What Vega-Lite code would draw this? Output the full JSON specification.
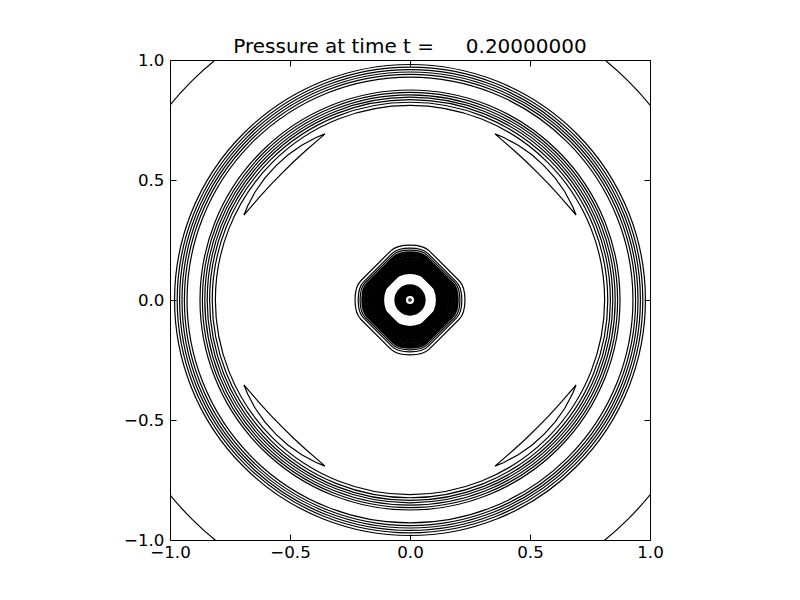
{
  "$schema": "https://vega.github.io/schema/vega-lite/v6.json",
  "width": 480,
  "height": 480,
  "autosize": {"type": "none"},
  "padding": {"left": 170, "top": 60, "right": 150, "bottom": 60},
  "background": "white",
  "title": {
    "text": "Pressure at time t =\u00a0\u00a0\u00a0\u00a0\u00a00.20000000",
    "font": "DejaVu Sans",
    "fontSize": 20,
    "fontWeight": "normal",
    "color": "black",
    "anchor": "middle",
    "frame": "group",
    "baseline": "alphabetic",
    "offset": -21
  },
  "config": {
    "view": {"stroke": "black", "strokeWidth": 1},
    "axis": {
      "domain": false,
      "grid": false,
      "tickColor": "black",
      "tickWidth": 1,
      "tickSize": -6,
      "labelColor": "black",
      "labelFont": "DejaVu Sans",
      "labelFontSize": 16.7,
      "labelPadding": 12,
      "labelFlush": false,
      "labelOverlap": false
    }
  },
  "datasets": {
    "circles": [
      {"group": "ring", "cx": 0, "cy": 0, "r": 0.981},
      {"group": "ring", "cx": 0, "cy": 0, "r": 0.970},
      {"group": "ring", "cx": 0, "cy": 0, "r": 0.960},
      {"group": "ring", "cx": 0, "cy": 0, "r": 0.950},
      {"group": "ring", "cx": 0, "cy": 0, "r": 0.940},
      {"group": "ring", "cx": 0, "cy": 0, "r": 0.929},
      {"group": "ring", "cx": 0, "cy": 0, "r": 0.875},
      {"group": "ring", "cx": 0, "cy": 0, "r": 0.865},
      {"group": "ring", "cx": 0, "cy": 0, "r": 0.855},
      {"group": "ring", "cx": 0, "cy": 0, "r": 0.845},
      {"group": "ring", "cx": 0, "cy": 0, "r": 0.835},
      {"group": "ring", "cx": 0, "cy": 0, "r": 0.824},
      {"group": "ring", "cx": 0, "cy": 0, "r": 0.811},
      {"group": "ring", "cx": 0, "cy": 0, "r": 1.288},
      {"group": "band", "cx": 0, "cy": 0, "r": 0.146},
      {"group": "band", "cx": 0, "cy": 0, "r": 0.141},
      {"group": "band", "cx": 0, "cy": 0, "r": 0.136},
      {"group": "band", "cx": 0, "cy": 0, "r": 0.131},
      {"group": "band", "cx": 0, "cy": 0, "r": 0.126},
      {"group": "band", "cx": 0, "cy": 0, "r": 0.121},
      {"group": "band", "cx": 0, "cy": 0, "r": 0.116},
      {"group": "band", "cx": 0, "cy": 0, "r": 0.112},
      {"group": "core", "cx": 0, "cy": 0, "r": 0.061},
      {"group": "core", "cx": 0, "cy": 0, "r": 0.057},
      {"group": "core", "cx": 0, "cy": 0, "r": 0.053},
      {"group": "core", "cx": 0, "cy": 0, "r": 0.049},
      {"group": "core", "cx": 0, "cy": 0, "r": 0.045},
      {"group": "core", "cx": 0, "cy": 0, "r": 0.041},
      {"group": "core", "cx": 0, "cy": 0, "r": 0.037},
      {"group": "core", "cx": 0, "cy": 0, "r": 0.033},
      {"group": "core", "cx": 0, "cy": 0, "r": 0.029},
      {"group": "core", "cx": 0, "cy": 0, "r": 0.025},
      {"group": "core", "cx": 0, "cy": 0, "r": 0.021},
      {"group": "ring", "cx": 0, "cy": 0, "r": 0.005}
    ],
    "diamonds": [
      {"group": "outer", "cx": 0, "cy": 0, "a": 0.229},
      {"group": "outer", "cx": 0, "cy": 0, "a": 0.216},
      {"group": "outer", "cx": 0, "cy": 0, "a": 0.208},
      {"group": "band", "cx": 0, "cy": 0, "a": 0.199},
      {"group": "band", "cx": 0, "cy": 0, "a": 0.193},
      {"group": "band", "cx": 0, "cy": 0, "a": 0.187},
      {"group": "band", "cx": 0, "cy": 0, "a": 0.181},
      {"group": "band", "cx": 0, "cy": 0, "a": 0.175},
      {"group": "band", "cx": 0, "cy": 0, "a": 0.169},
      {"group": "band", "cx": 0, "cy": 0, "a": 0.163},
      {"group": "band", "cx": 0, "cy": 0, "a": 0.157},
      {"group": "band", "cx": 0, "cy": 0, "a": 0.151},
      {"group": "band", "cx": 0, "cy": 0, "a": 0.145},
      {"group": "band", "cx": 0, "cy": 0, "a": 0.139},
      {"group": "band", "cx": 0, "cy": 0, "a": 0.133},
      {"group": "band", "cx": 0, "cy": 0, "a": 0.127},
      {"group": "band", "cx": 0, "cy": 0, "a": 0.121}
    ],
    "crescents": [
      {"id": "TL", "i": 0, "x": -0.354, "y": 0.692},
      {"id": "TL", "i": 1, "x": -0.391, "y": 0.677},
      {"id": "TL", "i": 2, "x": -0.451, "y": 0.645},
      {"id": "TL", "i": 3, "x": -0.508, "y": 0.605},
      {"id": "TL", "i": 4, "x": -0.559, "y": 0.559},
      {"id": "TL", "i": 5, "x": -0.605, "y": 0.508},
      {"id": "TL", "i": 6, "x": -0.645, "y": 0.451},
      {"id": "TL", "i": 7, "x": -0.677, "y": 0.391},
      {"id": "TL", "i": 8, "x": -0.692, "y": 0.354},
      {"id": "TL", "i": 9, "x": -0.666, "y": 0.384},
      {"id": "TL", "i": 10, "x": -0.622, "y": 0.435},
      {"id": "TL", "i": 11, "x": -0.577, "y": 0.484},
      {"id": "TL", "i": 12, "x": -0.531, "y": 0.531},
      {"id": "TL", "i": 13, "x": -0.484, "y": 0.577},
      {"id": "TL", "i": 14, "x": -0.435, "y": 0.622},
      {"id": "TL", "i": 15, "x": -0.384, "y": 0.666},
      {"id": "TL", "i": 16, "x": -0.354, "y": 0.692},
      {"id": "TR", "i": 0, "x": 0.354, "y": 0.692},
      {"id": "TR", "i": 1, "x": 0.391, "y": 0.677},
      {"id": "TR", "i": 2, "x": 0.451, "y": 0.645},
      {"id": "TR", "i": 3, "x": 0.508, "y": 0.605},
      {"id": "TR", "i": 4, "x": 0.559, "y": 0.559},
      {"id": "TR", "i": 5, "x": 0.605, "y": 0.508},
      {"id": "TR", "i": 6, "x": 0.645, "y": 0.451},
      {"id": "TR", "i": 7, "x": 0.677, "y": 0.391},
      {"id": "TR", "i": 8, "x": 0.692, "y": 0.354},
      {"id": "TR", "i": 9, "x": 0.666, "y": 0.384},
      {"id": "TR", "i": 10, "x": 0.622, "y": 0.435},
      {"id": "TR", "i": 11, "x": 0.577, "y": 0.484},
      {"id": "TR", "i": 12, "x": 0.531, "y": 0.531},
      {"id": "TR", "i": 13, "x": 0.484, "y": 0.577},
      {"id": "TR", "i": 14, "x": 0.435, "y": 0.622},
      {"id": "TR", "i": 15, "x": 0.384, "y": 0.666},
      {"id": "TR", "i": 16, "x": 0.354, "y": 0.692},
      {"id": "BL", "i": 0, "x": -0.354, "y": -0.692},
      {"id": "BL", "i": 1, "x": -0.391, "y": -0.677},
      {"id": "BL", "i": 2, "x": -0.451, "y": -0.645},
      {"id": "BL", "i": 3, "x": -0.508, "y": -0.605},
      {"id": "BL", "i": 4, "x": -0.559, "y": -0.559},
      {"id": "BL", "i": 5, "x": -0.605, "y": -0.508},
      {"id": "BL", "i": 6, "x": -0.645, "y": -0.451},
      {"id": "BL", "i": 7, "x": -0.677, "y": -0.391},
      {"id": "BL", "i": 8, "x": -0.692, "y": -0.354},
      {"id": "BL", "i": 9, "x": -0.666, "y": -0.384},
      {"id": "BL", "i": 10, "x": -0.622, "y": -0.435},
      {"id": "BL", "i": 11, "x": -0.577, "y": -0.484},
      {"id": "BL", "i": 12, "x": -0.531, "y": -0.531},
      {"id": "BL", "i": 13, "x": -0.484, "y": -0.577},
      {"id": "BL", "i": 14, "x": -0.435, "y": -0.622},
      {"id": "BL", "i": 15, "x": -0.384, "y": -0.666},
      {"id": "BL", "i": 16, "x": -0.354, "y": -0.692},
      {"id": "BR", "i": 0, "x": 0.354, "y": -0.692},
      {"id": "BR", "i": 1, "x": 0.391, "y": -0.677},
      {"id": "BR", "i": 2, "x": 0.451, "y": -0.645},
      {"id": "BR", "i": 3, "x": 0.508, "y": -0.605},
      {"id": "BR", "i": 4, "x": 0.559, "y": -0.559},
      {"id": "BR", "i": 5, "x": 0.605, "y": -0.508},
      {"id": "BR", "i": 6, "x": 0.645, "y": -0.451},
      {"id": "BR", "i": 7, "x": 0.677, "y": -0.391},
      {"id": "BR", "i": 8, "x": 0.692, "y": -0.354},
      {"id": "BR", "i": 9, "x": 0.666, "y": -0.384},
      {"id": "BR", "i": 10, "x": 0.622, "y": -0.435},
      {"id": "BR", "i": 11, "x": 0.577, "y": -0.484},
      {"id": "BR", "i": 12, "x": 0.531, "y": -0.531},
      {"id": "BR", "i": 13, "x": 0.484, "y": -0.577},
      {"id": "BR", "i": 14, "x": 0.435, "y": -0.622},
      {"id": "BR", "i": 15, "x": 0.384, "y": -0.666},
      {"id": "BR", "i": 16, "x": 0.354, "y": -0.692}
    ]
  },
  "layer": [
    {
      "data": {"name": "circles"},
      "transform": [{"filter": "datum.group === 'ring'"}],
      "mark": {"type": "point", "shape": "circle", "filled": false, "color": "black", "strokeWidth": 1.2, "opacity": 1, "clip": true},
      "encoding": {
        "x": {"field": "cx", "type": "quantitative", "scale": {"domain": [-1, 1], "nice": false, "zero": false},
          "axis": {"orient": "bottom", "values": [-1, -0.5, 0, 0.5, 1], "format": ".1f", "title": null, "labelPadding": 10}},
        "y": {"field": "cy", "type": "quantitative", "scale": {"domain": [-1, 1], "nice": false, "zero": false},
          "axis": {"orient": "left", "values": [-1, -0.5, 0, 0.5, 1], "format": ".1f", "title": null}},
        "size": {"field": "r", "type": "quantitative", "scale": {"type": "pow", "exponent": 2, "domain": [0, 2], "range": [0, 921600], "nice": false}, "legend": null}
      }
    },
    {
      "data": {"name": "circles"},
      "transform": [{"filter": "datum.group !== 'ring'"}],
      "mark": {"type": "point", "shape": "circle", "filled": false, "color": "black", "strokeWidth": 2, "opacity": 1, "clip": true},
      "encoding": {
        "x": {"field": "cx", "type": "quantitative", "axis": null},
        "y": {"field": "cy", "type": "quantitative", "axis": null},
        "size": {"field": "r", "type": "quantitative", "scale": {"type": "pow", "exponent": 2, "domain": [0, 2], "range": [0, 921600], "nice": false}, "legend": null}
      }
    },
    {
      "data": {"name": "diamonds"},
      "transform": [{"filter": "datum.group === 'outer'"}],
      "mark": {"type": "point", "shape": "M0,-1Q0.245,-1 0.35,-0.895L0.895,-0.35Q1,-0.245 1,0Q1,0.245 0.895,0.35L0.35,0.895Q0.245,1 0,1Q-0.245,1 -0.35,0.895L-0.895,0.35Q-1,0.245 -1,0Q-1,-0.245 -0.895,-0.35L-0.35,-0.895Q-0.245,-1 0,-1Z", "filled": false, "color": "black", "strokeWidth": 1.2, "opacity": 1, "clip": true},
      "encoding": {
        "x": {"field": "cx", "type": "quantitative", "scale": {"domain": [-1, 1], "nice": false, "zero": false},
          "axis": {"orient": "top", "values": [-1, -0.5, 0, 0.5, 1], "labels": false, "title": null}},
        "y": {"field": "cy", "type": "quantitative", "scale": {"domain": [-1, 1], "nice": false, "zero": false},
          "axis": {"orient": "right", "values": [-1, -0.5, 0, 0.5, 1], "labels": false, "title": null}},
        "size": {"field": "a", "type": "quantitative", "scale": {"type": "pow", "exponent": 2, "domain": [0, 2], "range": [0, 921600], "nice": false}, "legend": null}
      }
    },
    {
      "data": {"name": "diamonds"},
      "transform": [{"filter": "datum.group === 'band'"}],
      "mark": {"type": "point", "shape": "M0,-1Q0.245,-1 0.35,-0.895L0.895,-0.35Q1,-0.245 1,0Q1,0.245 0.895,0.35L0.35,0.895Q0.245,1 0,1Q-0.245,1 -0.35,0.895L-0.895,0.35Q-1,0.245 -1,0Q-1,-0.245 -0.895,-0.35L-0.35,-0.895Q-0.245,-1 0,-1Z", "filled": false, "color": "black", "strokeWidth": 2, "opacity": 1, "clip": true},
      "encoding": {
        "x": {"field": "cx", "type": "quantitative", "axis": null},
        "y": {"field": "cy", "type": "quantitative", "axis": null},
        "size": {"field": "a", "type": "quantitative", "scale": {"type": "pow", "exponent": 2, "domain": [0, 2], "range": [0, 921600], "nice": false}, "legend": null}
      }
    },
    {
      "data": {"name": "crescents"},
      "mark": {"type": "line", "color": "black", "strokeWidth": 1.2, "clip": true},
      "encoding": {
        "x": {"field": "x", "type": "quantitative", "axis": null},
        "y": {"field": "y", "type": "quantitative", "axis": null},
        "detail": {"field": "id", "type": "nominal"},
        "order": {"field": "i", "type": "quantitative"}
      }
    }
  ],
  "resolve": {"axis": {"x": "independent", "y": "independent"}}
}
